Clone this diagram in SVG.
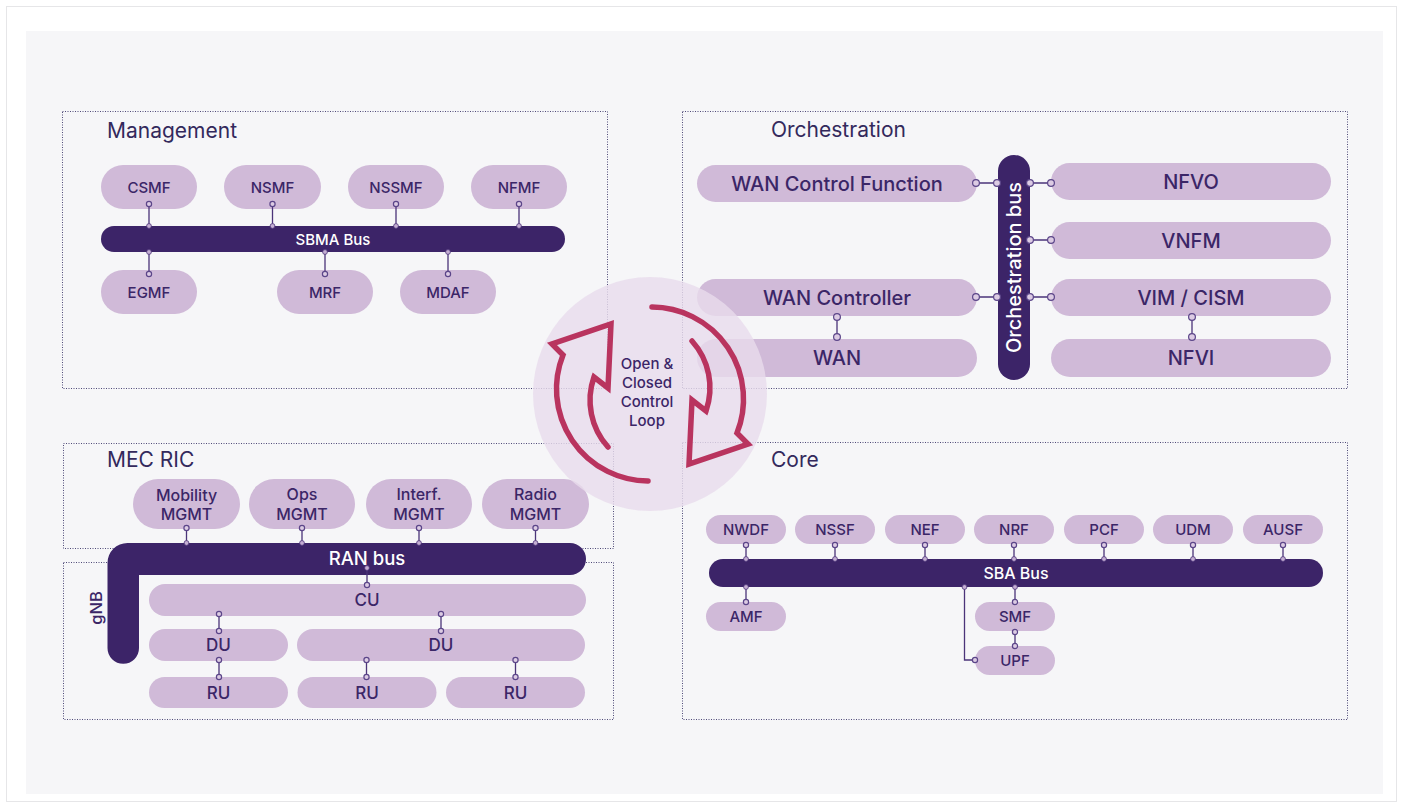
<svg xmlns="http://www.w3.org/2000/svg" width="1401" height="807" viewBox="0 0 1401 807">
<style>
text{font-family:Inter,"Noto Sans","Liberation Sans",sans-serif;fill:#3b2667;font-weight:500}
.title{font-size:21px;fill:#33295c;font-weight:400}
.pill{fill:#d0bad8}
.bus{fill:#3c2468}
.region{fill:none;stroke:#4f4a78;stroke-width:1;stroke-dasharray:1 1.5}
.t15{font-size:15px;text-anchor:middle}
.t16{font-size:16px;text-anchor:middle}
.t17{font-size:17px;text-anchor:middle}
.t20{font-size:20px;text-anchor:middle}
.wt{fill:#ffffff}
.ln{stroke:#4b3479;stroke-width:1.3;fill:none}
.ho{fill:#dccbe3;stroke:#5b4589;stroke-width:1.2}
.dot{fill:#c4aed3;stroke:#4b3479;stroke-width:0.8}
.arrow{fill:none;stroke:#b9345f;stroke-width:5.5;stroke-linecap:round;stroke-linejoin:miter;stroke-miterlimit:10}
</style>
<rect x="0" y="0" width="1401" height="807" fill="#ffffff"/>
<rect x="6.5" y="6.5" width="1390" height="795" fill="#ffffff" stroke="#e6e6e8" stroke-width="1"/>
<rect x="26" y="31" width="1357" height="763" fill="#f6f6f8"/>

<g id="regions">
<rect class="region" x="62.5" y="111.5" width="545" height="277"/>
<rect class="region" x="682.5" y="111.5" width="665" height="277"/>
<rect class="region" x="63.5" y="443.5" width="550" height="105"/>
<rect class="region" x="63.5" y="562.5" width="550" height="157"/>
<rect class="region" x="682.5" y="442.5" width="665" height="277"/>
<text class="title" x="107" y="138">Management</text>
<text class="title" x="771" y="137">Orchestration</text>
<text class="title" x="107" y="467">MEC RIC</text>
<text class="title" x="771" y="467">Core</text>
</g>

<!-- Management -->
<g id="csmf"><rect class="pill" x="101" y="165" width="96" height="44" rx="22"/><text class="t15" x="149" y="192.5">CSMF</text></g>
<g id="nsmf"><rect class="pill" x="224" y="165" width="97" height="44" rx="22"/><text class="t15" x="272.5" y="192.5">NSMF</text></g>
<g id="nssmf"><rect class="pill" x="348" y="165" width="96" height="44" rx="22"/><text class="t15" x="396" y="192.5">NSSMF</text></g>
<g id="nfmf"><rect class="pill" x="471" y="165" width="96" height="44" rx="22"/><text class="t15" x="519" y="192.5">NFMF</text></g>
<g id="sbma-bus"><rect class="bus" x="101" y="226" width="464" height="26" rx="13"/><text class="t15 wt" x="333" y="244.5">SBMA Bus</text></g>
<g id="egmf"><rect class="pill" x="101" y="270" width="96" height="44" rx="22"/><text class="t15" x="149" y="297.5">EGMF</text></g>
<g id="mrf"><rect class="pill" x="277" y="270" width="96" height="44" rx="22"/><text class="t15" x="325" y="297.5">MRF</text></g>
<g id="mdaf"><rect class="pill" x="400" y="270" width="96" height="44" rx="22"/><text class="t15" x="448" y="297.5">MDAF</text></g>

<!-- Orchestration -->
<g id="wan-cf"><rect class="pill" x="697" y="165" width="280" height="37" rx="18.5"/><text class="t20" x="837" y="190.8">WAN Control Function</text></g>
<g id="wan-ctrl"><rect class="pill" x="697" y="279" width="280" height="37" rx="18.5"/><text class="t20" x="837" y="304.8">WAN Controller</text></g>
<g id="wan"><rect class="pill" x="697" y="339" width="280" height="38" rx="19"/><text class="t20" x="837" y="365.3">WAN</text></g>
<g id="nfvo"><rect class="pill" x="1051" y="163" width="280" height="37" rx="18.5"/><text class="t20" x="1191" y="188.8">NFVO</text></g>
<g id="vnfm"><rect class="pill" x="1051" y="222" width="280" height="37" rx="18.5"/><text class="t20" x="1191" y="247.8">VNFM</text></g>
<g id="vim"><rect class="pill" x="1051" y="279" width="280" height="37" rx="18.5"/><text class="t20" x="1191" y="304.8">VIM / CISM</text></g>
<g id="nfvi"><rect class="pill" x="1051" y="339" width="280" height="38" rx="19"/><text class="t20" x="1191" y="365.3">NFVI</text></g>
<g id="orch-bus"><rect class="bus" x="998" y="155" width="32" height="225" rx="16"/><text class="t20 wt" transform="translate(1021.3,267.5) rotate(-90)">Orchestration bus</text></g>

<!-- MEC RIC / gNB -->
<g id="mobility"><rect class="pill" x="133" y="479" width="107" height="50" rx="25"/><text class="t16" x="186.5" y="500.5">Mobility</text><text class="t16" x="186.5" y="519.5">MGMT</text></g>
<g id="ops"><rect class="pill" x="249" y="479" width="106" height="50" rx="25"/><text class="t16" x="302" y="500">Ops</text><text class="t16" x="302" y="519.5">MGMT</text></g>
<g id="interf"><rect class="pill" x="366" y="479" width="106" height="50" rx="25"/><text class="t16" x="419" y="500">Interf.</text><text class="t16" x="419" y="519.5">MGMT</text></g>
<g id="radio"><rect class="pill" x="482" y="479" width="107" height="50" rx="25"/><text class="t16" x="535.5" y="500">Radio</text><text class="t16" x="535.5" y="519.5">MGMT</text></g>
<g id="ran-bus"><path class="bus" d="M139,575 L570,575 A16,16 0 0 0 570,543 L127.5,543 A20,20 0 0 0 107.5,563 L107.5,648 A15.75,15.75 0 0 0 139,648 Z"/><text class="wt" x="367" y="565" style="font-size:18.5px;text-anchor:middle">RAN bus</text><text transform="translate(102,608) rotate(-90)" style="font-size:16.5px;text-anchor:middle">gNB</text></g>
<g id="cu"><rect class="pill" x="149" y="584" width="437" height="32" rx="16"/><text class="t17" x="367" y="606">CU</text></g>
<g id="du1"><rect class="pill" x="149" y="629" width="139" height="32" rx="16"/><text class="t17" x="218.5" y="651">DU</text></g>
<g id="du2"><rect class="pill" x="297" y="629" width="288" height="32" rx="16"/><text class="t17" x="441" y="651">DU</text></g>
<g id="ru1"><rect class="pill" x="149" y="677" width="139" height="31" rx="15.5"/><text class="t17" x="218.5" y="698.5">RU</text></g>
<g id="ru2"><rect class="pill" x="297.5" y="677" width="139" height="31" rx="15.5"/><text class="t17" x="367" y="698.5">RU</text></g>
<g id="ru3"><rect class="pill" x="446" y="677" width="139" height="31" rx="15.5"/><text class="t17" x="515.5" y="698.5">RU</text></g>

<!-- Core -->
<g id="nwdf"><rect class="pill" x="706" y="515" width="80" height="29" rx="14.5"/><text class="t15" x="746" y="535">NWDF</text></g>
<g id="nssf"><rect class="pill" x="795" y="515" width="80" height="29" rx="14.5"/><text class="t15" x="835" y="535">NSSF</text></g>
<g id="nef"><rect class="pill" x="885" y="515" width="80" height="29" rx="14.5"/><text class="t15" x="925" y="535">NEF</text></g>
<g id="nrf"><rect class="pill" x="974" y="515" width="80" height="29" rx="14.5"/><text class="t15" x="1014" y="535">NRF</text></g>
<g id="pcf"><rect class="pill" x="1064" y="515" width="80" height="29" rx="14.5"/><text class="t15" x="1104" y="535">PCF</text></g>
<g id="udm"><rect class="pill" x="1153" y="515" width="80" height="29" rx="14.5"/><text class="t15" x="1193" y="535">UDM</text></g>
<g id="ausf"><rect class="pill" x="1243" y="515" width="80" height="29" rx="14.5"/><text class="t15" x="1283" y="535">AUSF</text></g>
<g id="sba-bus"><rect class="bus" x="709" y="559" width="614" height="28" rx="14"/><text class="wt" x="1016" y="579" style="font-size:16px;text-anchor:middle">SBA Bus</text></g>
<g id="amf"><rect class="pill" x="706" y="602" width="80" height="29" rx="14.5"/><text class="t15" x="746" y="621.5">AMF</text></g>
<g id="smf"><rect class="pill" x="975" y="602" width="80" height="29" rx="14.5"/><text class="t15" x="1015" y="621.5">SMF</text></g>
<g id="upf"><rect class="pill" x="975" y="646" width="80" height="29" rx="14.5"/><text class="t15" x="1015" y="666">UPF</text></g>

<g id="connectors">
<!-- Management -->
<path class="ln" d="M149,204V226M272.5,204V226M396,204V226M519,204V226M149,252V274M325,252V274M448,252V274"/>
<circle class="ho" cx="149" cy="204" r="2.6"/><circle class="dot" cx="149" cy="226" r="2.4"/>
<circle class="ho" cx="272.5" cy="204" r="2.6"/><circle class="dot" cx="272.5" cy="226" r="2.4"/>
<circle class="ho" cx="396" cy="204" r="2.6"/><circle class="dot" cx="396" cy="226" r="2.4"/>
<circle class="ho" cx="519" cy="204" r="2.6"/><circle class="dot" cx="519" cy="226" r="2.4"/>
<circle class="dot" cx="149" cy="252" r="2.4"/><circle class="ho" cx="149" cy="274" r="2.6"/>
<circle class="dot" cx="325" cy="252" r="2.4"/><circle class="ho" cx="325" cy="274" r="2.6"/>
<circle class="dot" cx="448" cy="252" r="2.4"/><circle class="ho" cx="448" cy="274" r="2.6"/>
<!-- Orchestration -->
<path class="ln" d="M976,183H997M1030,183H1051M1030,240H1051M1030,297H1051M976,297H997M837,317V337M1192,317V337"/>
<circle class="ho" cx="976" cy="183" r="3.4"/><circle class="ho" cx="997" cy="183" r="3.4"/>
<circle class="ho" cx="1030" cy="183" r="3.4"/><circle class="ho" cx="1051" cy="183" r="3.4"/>
<circle class="ho" cx="1030" cy="240" r="3.4"/><circle class="ho" cx="1051" cy="240" r="3.4"/>
<circle class="ho" cx="1030" cy="297" r="3.4"/><circle class="ho" cx="1051" cy="297" r="3.4"/>
<circle class="ho" cx="976" cy="297" r="3.4"/><circle class="ho" cx="997" cy="297" r="3.4"/>
<circle class="ho" cx="837" cy="317" r="3.4"/><circle class="ho" cx="837" cy="337" r="3.4"/>
<circle class="ho" cx="1192" cy="317" r="3.4"/><circle class="ho" cx="1192" cy="337" r="3.4"/>
<!-- MEC / gNB -->
<path class="ln" d="M186.5,528V543M302,528V543M419,528V543M535.5,528V543M367,568V585M219,614V631M441,614V631M219,660V677M366.5,660V677M515.5,660V677"/>
<circle class="ho" cx="186.5" cy="528" r="2.6"/><circle class="dot" cx="186.5" cy="543" r="2.4"/>
<circle class="ho" cx="302" cy="528" r="2.6"/><circle class="dot" cx="302" cy="543" r="2.4"/>
<circle class="ho" cx="419" cy="528" r="2.6"/><circle class="dot" cx="419" cy="543" r="2.4"/>
<circle class="ho" cx="535.5" cy="528" r="2.6"/><circle class="dot" cx="535.5" cy="543" r="2.4"/>
<circle class="dot" cx="367" cy="568" r="2.4"/><circle class="ho" cx="367" cy="585" r="2.6"/>
<circle class="ho" cx="219" cy="614" r="2.6"/><circle class="ho" cx="219" cy="631" r="2.6"/>
<circle class="ho" cx="441" cy="614" r="2.6"/><circle class="ho" cx="441" cy="631" r="2.6"/>
<circle class="ho" cx="219" cy="660" r="2.6"/><circle class="ho" cx="219" cy="677" r="2.6"/>
<circle class="ho" cx="366.5" cy="660" r="2.6"/><circle class="ho" cx="366.5" cy="677" r="2.6"/>
<circle class="ho" cx="515.5" cy="660" r="2.6"/><circle class="ho" cx="515.5" cy="677" r="2.6"/>
<!-- Core -->
<path class="ln" d="M746,545V559M835,545V559M925,545V559M1014,545V559M1104,545V559M1193,545V559M1283,545V559M746,587V602M1015,587V602M1015,632V646M964.5,587V660H975"/>
<circle class="ho" cx="746" cy="545" r="2.6"/><circle class="dot" cx="746" cy="559" r="2.4"/>
<circle class="ho" cx="835" cy="545" r="2.6"/><circle class="dot" cx="835" cy="559" r="2.4"/>
<circle class="ho" cx="925" cy="545" r="2.6"/><circle class="dot" cx="925" cy="559" r="2.4"/>
<circle class="ho" cx="1014" cy="545" r="2.6"/><circle class="dot" cx="1014" cy="559" r="2.4"/>
<circle class="ho" cx="1104" cy="545" r="2.6"/><circle class="dot" cx="1104" cy="559" r="2.4"/>
<circle class="ho" cx="1193" cy="545" r="2.6"/><circle class="dot" cx="1193" cy="559" r="2.4"/>
<circle class="ho" cx="1283" cy="545" r="2.6"/><circle class="dot" cx="1283" cy="559" r="2.4"/>
<circle class="dot" cx="746" cy="587" r="2.4"/><circle class="ho" cx="746" cy="602" r="2.6"/>
<circle class="dot" cx="1015" cy="587" r="2.4"/><circle class="ho" cx="1015" cy="602" r="2.6"/>
<circle class="ho" cx="1015" cy="632" r="2.6"/><circle class="ho" cx="1015" cy="646" r="2.6"/>
<circle class="dot" cx="964.5" cy="587" r="2.4"/><circle class="ho" cx="975" cy="660" r="2.6"/>
</g>

<g id="control-loop">
<circle cx="650" cy="394" r="117" fill="#e8dcec" fill-opacity="0.8"/>
<path id="loop-arrow" class="arrow" d="M608,447 A70,70 0 0 1 594,377 L608,388 L611,324 L552,344 L563,355 A92,92 0 0 0 648,481"/>
<path class="arrow" transform="rotate(180 650 394)" d="M608,447 A70,70 0 0 1 594,377 L608,388 L611,324 L552,344 L563,355 A92,92 0 0 0 648,481"/>
<text class="t15" x="647" y="369">Open &amp;</text>
<text class="t15" x="647" y="388">Closed</text>
<text class="t15" x="647" y="407">Control</text>
<text class="t15" x="647" y="426">Loop</text>
</g>
</svg>
